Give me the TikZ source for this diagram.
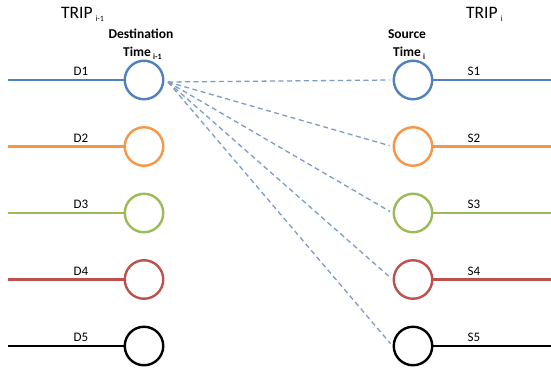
\documentclass[tikz,border=0pt]{standalone}
\usepackage{fontspec}
\setmainfont{Carlito}
\definecolor{cblue}{HTML}{4F81BD}
\definecolor{corange}{HTML}{F79646}
\definecolor{cgreen}{HTML}{9BBB59}
\definecolor{cred}{HTML}{C0504D}
\definecolor{cblack}{HTML}{000000}
\definecolor{clink}{HTML}{7F9CC4}
\newcommand{\sbs}[1]{\raisebox{-0.45ex}{\fontsize{8}{9}\selectfont #1}}
\begin{document}
\begin{tikzpicture}[x=1pt,y=-1pt,
  ring/.style={circle,draw=#1,line width=2.4pt,minimum size=38.5pt,inner sep=0pt,fill=white},
  wire/.style={draw=#1,line width=2.4pt},
  lbl/.style={font=\fontsize{13}{15}\selectfont,inner sep=0pt},
  head/.style={font=\fontsize{13.5}{15}\selectfont\bfseries,inner sep=0pt},
  trip/.style={font=\fontsize{17.5}{19}\selectfont,inner sep=0pt,anchor=base west},
  link/.style={draw=clink,line width=1.3pt,dash pattern=on 5pt off 3.5pt,shorten >=3pt}]
\useasboundingbox (0,0) rectangle (551,372);
\fill[white] (0,0) rectangle (551,372);
% titles
\node[trip] (tl) at (61,18) {TRIP\,\sbs{i-1}};
\node[trip] (tr) at (466,18) {TRIP\,\sbs{i}};
\node[head] (dest) at (141,34) {Destination};
\node[head,anchor=base west] (timel) at (123,56.5) {Time\,\sbs{i-1}};
\node[head] (src) at (407,34) {Source};
\node[head,anchor=base west] (timer) at (393,56.5) {Time\,\sbs{i}};
% rows
\foreach \k/\y/\c in {1/80/cblue,2/146.5/corange,3/213/cgreen,4/279.5/cred,5/346/cblack}{
  \coordinate (dl\k) at (8,\y);
  \coordinate (sr\k) at (551,\y);
  \node[ring=\c] (d\k) at (144,\y) {};
  \node[ring=\c] (s\k) at (413,\y) {};
  \draw[wire=\c] (dl\k) -- (d\k);
  \draw[wire=\c] (s\k) -- (sr\k);
  \node[lbl] (dlab\k) at (81,\y-8.5) {D\k};
  \node[lbl] (slab\k) at (474,\y-8.5) {S\k};
}
\coordinate (o) at (168,82);
\foreach \k in {1,...,5}{
  \draw[link] (o) -- (s\k.west);
}
\end{tikzpicture}
\end{document}
